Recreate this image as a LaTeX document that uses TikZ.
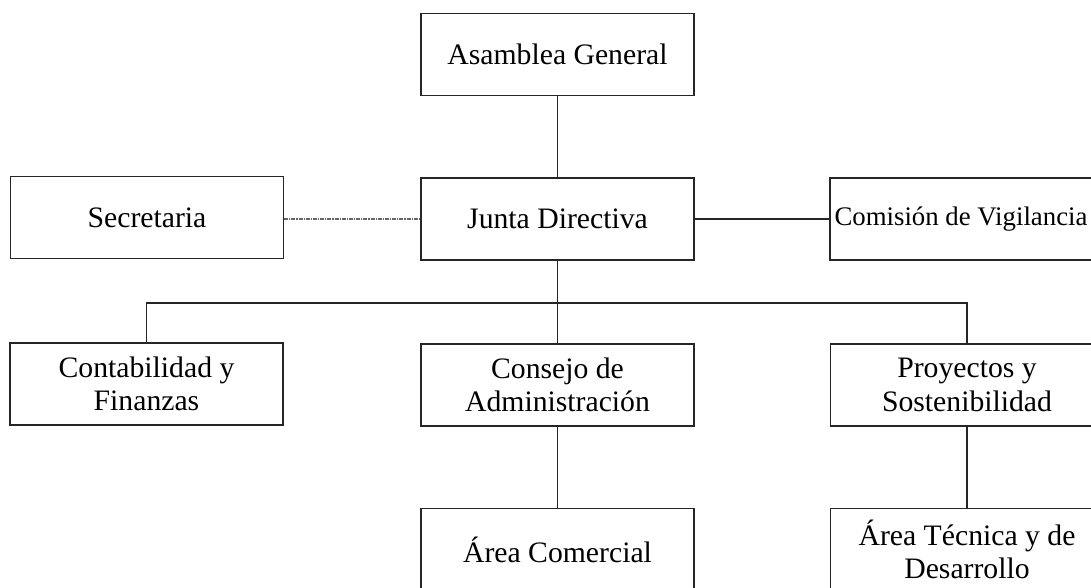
\documentclass[tikz,border=0pt]{standalone}
\usepackage{fontspec}
\setmainfont{Liberation Serif}
\begin{document}
\begin{tikzpicture}[x=1pt,y=-1pt,
  box/.style={draw=black!85, line width=1.4pt, minimum width=273pt, minimum height=82pt,
    inner sep=0pt, align=center, font=\fontsize{29.7}{33.5}\selectfont},
  conn/.style={draw=black!85, line width=1.4pt},
  dashconn/.style={draw=black!60, line width=1.1pt, dash pattern=on 4pt off 1pt on 1.2pt off 1pt}]
\useasboundingbox (0,0) rectangle (1091,587);
\node[box] (asam) at (557.5,54.5) {Asamblea General};
\node[box] (junta) at (557.5,219) {Junta Directiva};
\node[box] (sec) at (147,217.5) {Secretaria};
\node[box, minimum width=262pt, font=\fontsize{26.8}{30}\selectfont] (com) at (961,219) {Comisión de Vigilancia};
\node[box] (cont) at (146.5,384) {Contabilidad y\\Finanzas};
\node[box] (cons) at (557.5,385) {Consejo de\\Administración};
\node[box] (proy) at (967,385) {Proyectos y\\Sostenibilidad};
\node[box] (acom) at (557.5,549.5) {Área Comercial};
\node[box] (atec) at (967,549.5) {Área Técnica y de\\Desarrollo};
\coordinate (bus) at (557.5,303);
\draw[conn] (asam) -- (junta);
\draw[dashconn] (sec.east |- junta.west) -- (junta.west);
\draw[conn] (junta.east) -- (com.west |- junta.east);
\draw[conn] (junta.south) -- (cons.north);
\draw[conn] (cont.north) |- (bus) -| (proy.north);
\draw[conn] (cons.south) -- (acom.north);
\draw[conn] (proy.south) -- (atec.north);
\end{tikzpicture}
\end{document}
